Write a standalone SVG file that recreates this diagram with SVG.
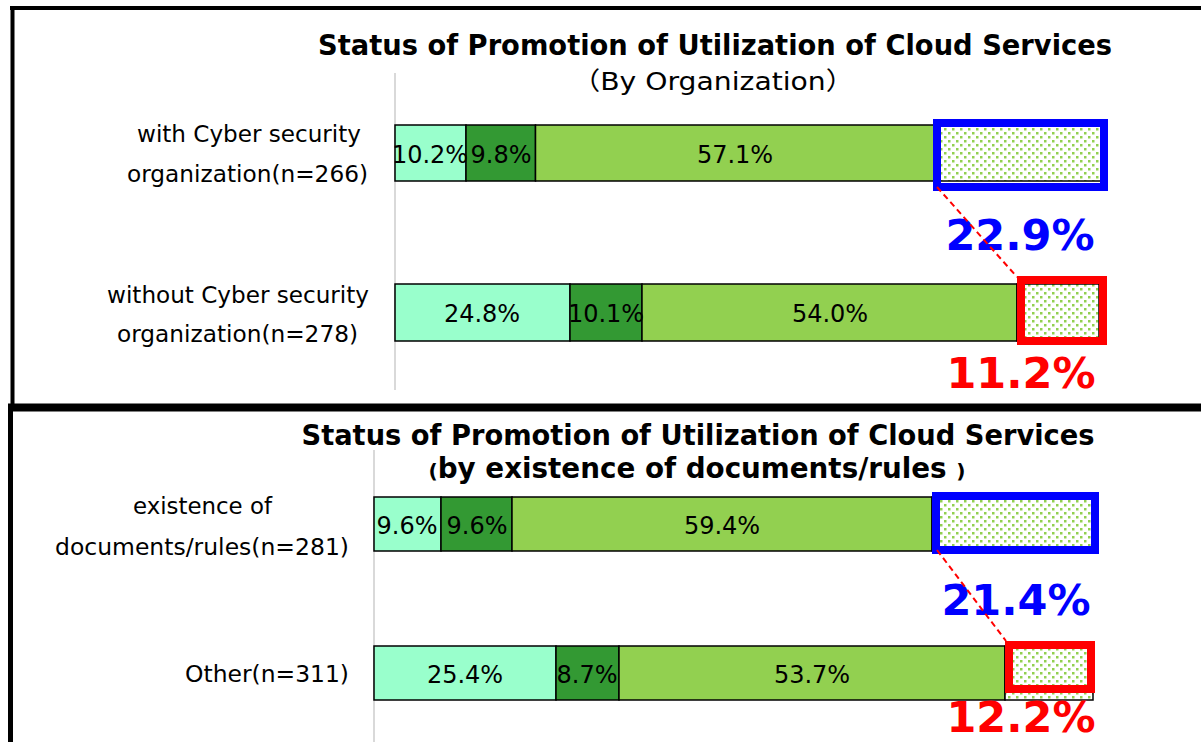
<svg xmlns="http://www.w3.org/2000/svg" width="1201" height="742" viewBox="0 0 1201 742">
  <style>
    .frame { stroke: #000; fill: none; }
    .axis { stroke: #d9d9d9; stroke-width: 2; }
    .seg { stroke: #000; stroke-width: 1.5; }
    .s1 { fill: #99ffcc; }
    .s2 { fill: #339933; }
    .s3 { fill: #92d050; }
    .s4 { fill: url(#dots); }
    .title { font-family: "DejaVu Sans", "Noto Sans CJK JP", sans-serif; font-weight: bold; font-size: 27.5px; fill: #000; text-anchor: middle; }
    .sub { font-family: "DejaVu Sans", "Noto Sans CJK JP", sans-serif; font-size: 25px; fill: #000; text-anchor: middle; }
    .cat { font-family: "DejaVu Sans", sans-serif; font-size: 23px; fill: #000; text-anchor: middle; }
    .val { font-family: "DejaVu Sans", sans-serif; font-size: 24px; fill: #000; text-anchor: middle; }
    .big { font-family: "DejaVu Sans", sans-serif; font-weight: bold; font-size: 43px; text-anchor: middle; }
    .blue { fill: #0000ff; }
    .red { fill: #ff0000; }
    .boxB { fill: none; stroke: #0000ff; stroke-width: 8; }
    .boxR { fill: none; stroke: #ff0000; stroke-width: 8; }
    .lead { stroke: #ff0000; stroke-width: 2; stroke-dasharray: 6 4; fill: none; }
  </style>
  <defs>
    <pattern id="dots" width="8" height="8" patternUnits="userSpaceOnUse">
      <rect width="8" height="8" fill="#fff"/>
      <rect x="0" y="0" width="2.5" height="2.5" fill="#92d050"/>
      <rect x="4" y="4" width="2.5" height="2.5" fill="#92d050"/>
    </pattern>
  </defs>
  <rect width="1201" height="742" fill="#fff"/>

  <!-- panel frames -->
  <g id="frames">
    <line class="frame" x1="10" y1="8" x2="1201" y2="8" stroke-width="4"/>
    <line class="frame" x1="12.5" y1="6" x2="12.5" y2="407" stroke-width="4"/>
    <line class="frame" x1="8" y1="407.5" x2="1201" y2="407.5" stroke-width="8"/>
    <line class="frame" x1="10.5" y1="404" x2="10.5" y2="742" stroke-width="5"/>
  </g>

  <!-- upper chart -->
  <g id="chart-organization">
    <text class="title" x="715" y="55" textLength="794" lengthAdjust="spacingAndGlyphs">Status of Promotion of Utilization of Cloud Services</text>
    <text class="sub" x="713" y="90" textLength="282" lengthAdjust="spacingAndGlyphs">（By Organization）</text>
    <line class="axis" x1="395" y1="73" x2="395" y2="390"/>

    <g id="row-with-org">
      <text class="cat" x="249" y="142" textLength="224" lengthAdjust="spacingAndGlyphs">with Cyber security</text>
      <text class="cat" x="247.5" y="182" textLength="241" lengthAdjust="spacingAndGlyphs">organization(n=266)</text>
      <rect class="seg s1" x="395" y="125" width="71" height="56"/>
      <rect class="seg s2" x="466" y="125" width="69.5" height="56"/>
      <rect class="seg s3" x="535.5" y="125" width="399.5" height="56"/>
      <rect class="seg s4" x="935" y="125" width="166" height="56"/>
      <text class="val" x="430" y="163">10.2%</text>
      <text class="val" x="501" y="163">9.8%</text>
      <text class="val" x="735" y="163">57.1%</text>
      <rect class="boxB" x="937" y="123" width="167" height="64"/>
      <text class="big blue" x="1020" y="250">22.9%</text>
    </g>

    <g id="row-without-org">
      <text class="cat" x="238" y="303" textLength="262" lengthAdjust="spacingAndGlyphs">without Cyber security</text>
      <text class="cat" x="237.5" y="342" textLength="241" lengthAdjust="spacingAndGlyphs">organization(n=278)</text>
      <rect class="seg s1" x="395" y="284" width="175" height="57"/>
      <rect class="seg s2" x="570" y="284" width="72" height="57"/>
      <rect class="seg s3" x="642" y="284" width="375" height="57"/>
      <rect class="seg s4" x="1017" y="284" width="82" height="57"/>
      <text class="val" x="482" y="322">24.8%</text>
      <text class="val" x="606" y="322">10.1%</text>
      <text class="val" x="830" y="322">54.0%</text>
      <rect class="boxR" x="1021" y="280" width="82" height="61"/>
      <text class="big red" x="1021" y="388">11.2%</text>
    </g>
  </g>

  <!-- lower chart -->
  <g id="chart-documents">
    <text class="title" x="698" y="445" textLength="793" lengthAdjust="spacingAndGlyphs">Status of Promotion of Utilization of Cloud Services</text>
    <text class="title" x="697" y="478" textLength="537" lengthAdjust="spacingAndGlyphs"><tspan font-size="20px">(</tspan>by existence of documents/rules <tspan font-size="20px">)</tspan></text>
    <line class="axis" x1="374" y1="450" x2="374" y2="742"/>

    <g id="row-documents">
      <text class="cat" x="202.5" y="514" textLength="139" lengthAdjust="spacingAndGlyphs">existence of</text>
      <text class="cat" x="202" y="555" textLength="294" lengthAdjust="spacingAndGlyphs">documents/rules(n=281)</text>
      <rect class="seg s1" x="374" y="497" width="67" height="54"/>
      <rect class="seg s2" x="441" y="497" width="71" height="54"/>
      <rect class="seg s3" x="512" y="497" width="420" height="54"/>
      <rect class="seg s4" x="932" y="497" width="160" height="54"/>
      <text class="val" x="407" y="534">9.6%</text>
      <text class="val" x="477" y="534">9.6%</text>
      <text class="val" x="722" y="534">59.4%</text>
      <rect class="boxB" x="936" y="496" width="159" height="54"/>
      <text class="big blue" x="1016" y="615">21.4%</text>
    </g>

    <g id="row-other">
      <text class="cat" x="267" y="682" textLength="164" lengthAdjust="spacingAndGlyphs">Other(n=311)</text>
      <rect class="seg s1" x="374" y="646" width="182" height="54"/>
      <rect class="seg s2" x="556" y="646" width="63" height="54"/>
      <rect class="seg s3" x="619" y="646" width="386" height="54"/>
      <rect class="seg s4" x="1005" y="646" width="88" height="54"/>
      <text class="val" x="465" y="683">25.4%</text>
      <text class="val" x="587" y="683">8.7%</text>
      <text class="val" x="812" y="683">53.7%</text>
      <rect class="boxR" x="1009" y="645" width="82" height="44"/>
      <text class="big red" x="1021" y="732">12.2%</text>
    </g>
  </g>

  <!-- leader lines between highlighted segments -->
  <g id="connectors">
    <line class="lead" x1="937" y1="187" x2="1017" y2="277"/>
    <line class="lead" x1="937" y1="550" x2="1006" y2="641"/>
  </g>
</svg>
